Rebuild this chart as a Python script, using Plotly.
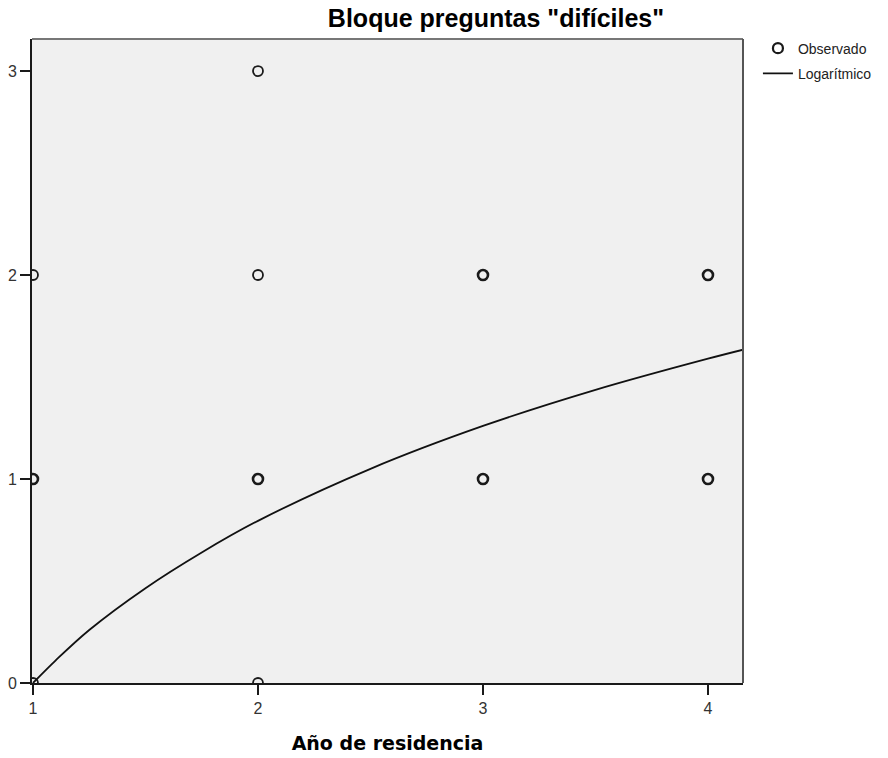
import plotly.graph_objects as go

# Observed points (x = year of residence, y = score); n = estimated overlap count
obs_x = [1, 1, 1, 2, 2, 2, 2, 3, 3, 4, 4]
obs_y = [0, 1, 2, 0, 1, 2, 3, 1, 2, 1, 2]
obs_n = [1, 3, 1, 1, 3, 1, 1, 3, 3, 3, 3]

# Logarithmic fit curve
fit_x = [1.0, 1.1, 1.25, 1.5, 1.75, 2.0, 2.5, 3.0, 3.5, 4.0, 4.156]
fit_y = [0.0, 0.11, 0.26, 0.465, 0.64, 0.795, 1.05, 1.26, 1.437, 1.59, 1.634]

x_ticks = [1, 2, 3, 4]
y_ticks = [0, 1, 2, 3]

title_text = 'Bloque preguntas "difíciles"'
x_title = "Año de residencia"

W, H = 888, 758
L, R, T, B = 32, 145, 39, 75

widths = [1.8 if n == 1 else 2.6 for n in obs_n]

fig = go.Figure()
fig.add_trace(go.Scatter(
    x=obs_x, y=obs_y, mode="markers", name="Observado",
    marker=dict(symbol="circle-open", size=10, color="#1a1a1a",
                line=dict(width=widths, color="#1a1a1a")),
    legendgroup="a", cliponaxis=True,
))
fig.add_trace(go.Scatter(
    x=fit_x, y=fit_y, mode="lines", name="Logarítmico",
    line=dict(color="#111111", width=1.8, shape="spline", smoothing=1.0),
    legendgroup="b", cliponaxis=True,
))

fig.update_layout(
    width=W, height=H,
    margin=dict(l=L, r=R, t=T, b=B, autoexpand=False),
    paper_bgcolor="white", plot_bgcolor="#F0F0F0",
    showlegend=True,
    title=dict(text=title_text, x=496 / W, xref="container", xanchor="center",
               y=1 - 18 / H, yref="container", yanchor="middle",
               font=dict(family="Liberation Sans", size=25, color="#000000", weight="bold")),
    legend=dict(x=1.021, y=1.01, xanchor="left", yanchor="top",
                bgcolor="rgba(0,0,0,0)", tracegroupgap=4,
                font=dict(family="Liberation Sans", size=14, color="#222222")),
    xaxis=dict(range=[0.9956, 4.1556], tickvals=x_ticks, ticktext=[str(v) for v in x_ticks],
               showgrid=False, zeroline=False, showline=True, linecolor="#1a1a1a", linewidth=2,
               ticks="outside", ticklen=10, tickwidth=2, tickcolor="#1a1a1a",
               tickfont=dict(family="Liberation Sans", size=16, color="#333333"),
               title=dict(text=x_title, standoff=20,
                          font=dict(family="DejaVu Sans", size=19, color="#000000", weight="bold"))),
    yaxis=dict(range=[0, 3.157], tickvals=y_ticks, ticktext=[str(v) for v in y_ticks],
               showgrid=False, zeroline=False, showline=True, linecolor="#1a1a1a", linewidth=2,
               ticks="outside", ticklen=10, tickwidth=2, tickcolor="#1a1a1a", ticklabelstandoff=0,
               tickfont=dict(family="Liberation Sans", size=16, color="#333333")),
    shapes=[
        dict(type="line", xref="paper", yref="paper", x0=0, x1=1, y0=1, y1=1,
             line=dict(color="#777777", width=2)),
        dict(type="line", xref="paper", yref="paper", x0=1, x1=1, y0=0, y1=1,
             line=dict(color="#555555", width=2)),
    ],
)

fig.write_html("out.html")
